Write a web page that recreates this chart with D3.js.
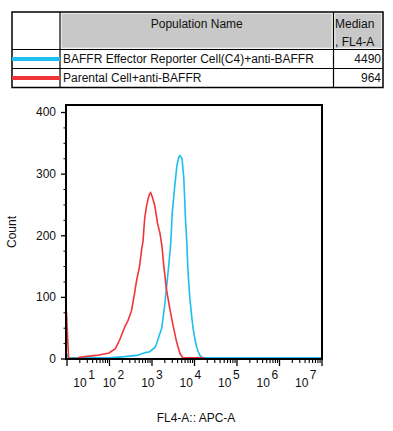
<!DOCTYPE html>
<html>
<head>
<meta charset="utf-8">
<script src="https://cdn.jsdelivr.net/npm/d3@7"></script>
<style>
  body { margin: 0; background: #fff; }
  text { font-family: "Liberation Sans", Arial, sans-serif; fill: #111; }
</style>
</head>
<body>
<svg id="chart" width="393" height="431"></svg>
<script>
// populations shown in the legend table
var populations = ["BAFFR Effector Reporter Cell(C4)+anti-BAFFR", "Parental Cell+anti-BAFFR"];
var medians = [4490, 964];
var popColors = ["#1cbfef", "#f0353a"];

// histogram readings: x as log10(FL4-A), y as count
var blueLog = [1.00, 1.03, 1.06, 2.00, 2.37, 2.65, 2.88, 2.96, 3.08, 3.12, 3.18, 3.24, 3.31, 3.39, 3.45, 3.49, 3.55, 3.60, 3.64, 3.67, 3.72, 3.76, 3.78, 3.80, 3.83, 3.85, 3.87, 3.90, 3.94, 3.98, 4.02, 4.06, 4.10, 4.14, 4.19, 4.25, 7.00];
var blueCount = [8, 3, 1, 1, 3, 5, 10, 11, 18, 24, 37, 49, 86, 140, 184, 238, 282, 314, 326, 329, 324, 293, 260, 225, 190, 155, 130, 100, 72, 48, 32, 19, 11, 5, 2, 1, 1];

var redLog = [1.00, 1.02, 1.05, 1.28, 1.30, 1.70, 2.00, 2.15, 2.25, 2.37, 2.45, 2.53, 2.60, 2.65, 2.72, 2.77, 2.80, 2.84, 2.88, 2.92, 2.95, 2.98, 3.02, 3.08, 3.14, 3.20, 3.25, 3.29, 3.35, 3.43, 3.51, 3.59, 3.67, 3.74, 4.21, 4.25];
var redCount = [75, 43, 0, 0, 2, 5, 9, 16, 30, 51, 62, 78, 105, 127, 150, 178, 190, 228, 246, 259, 266, 269, 262, 247, 220, 203, 180, 150, 113, 81, 53, 27, 8, 1, 1, 0];

var yMajor = [0, 100, 200, 300, 400];
var decades = [1, 2, 3, 4, 5, 6, 7];

var svg = d3.select("#chart");

// ---- legend table ----
var colX = [12, 60, 333.5, 383];
var rowY = [12, 49.5, 68.5, 87.5];

var table = svg.append("g");

// gray header cells
[1, 2].forEach(function(c) {
    table.append("rect")
        .attr("x", colX[c] + 1.5).attr("y", rowY[0] + 1.5)
        .attr("width", colX[c + 1] - colX[c] - 3).attr("height", rowY[1] - rowY[0] - 3)
        .attr("fill", "#c8c8c8")
        .attr("stroke", "#e6e6e6").attr("stroke-width", 1);
});

// grid lines
table.append("rect")
    .attr("x", colX[0]).attr("y", rowY[0])
    .attr("width", colX[3] - colX[0]).attr("height", rowY[3] - rowY[0])
    .attr("fill", "none").attr("stroke", "#000").attr("stroke-width", 1.5);
colX.slice(1, 3).forEach(function(cx) {
    table.append("line").attr("x1", cx).attr("x2", cx).attr("y1", rowY[0]).attr("y2", rowY[3])
        .attr("stroke", "#000").attr("stroke-width", 1.2);
});
rowY.slice(1, 3).forEach(function(ry) {
    table.append("line").attr("x1", colX[0]).attr("x2", colX[3]).attr("y1", ry).attr("y2", ry)
        .attr("stroke", "#000").attr("stroke-width", 1.2);
});

table.append("text")
    .attr("x", (colX[1] + colX[2]) / 2).attr("y", 24).attr("dy", "0.35em")
    .attr("text-anchor", "middle").style("font-size", "12px")
    .text("Population Name");
table.append("text")
    .attr("x", colX[2] + 1.5).attr("y", 24).attr("dy", "0.35em")
    .style("font-size", "12px").text("Median");
table.append("text")
    .attr("x", colX[2] + 1.5).attr("y", 41.5).attr("dy", "0.35em")
    .style("font-size", "12px").text(", FL4-A");

populations.forEach(function(name, i) {
    var cy = (rowY[i + 1] + rowY[i + 2]) / 2;
    table.append("line")
        .attr("x1", colX[0]).attr("x2", colX[1])
        .attr("y1", cy).attr("y2", cy)
        .attr("stroke", popColors[i]).attr("stroke-width", 4);
    table.append("text")
        .attr("x", colX[1] + 3).attr("y", cy).attr("dy", "0.35em")
        .style("font-size", "12px").text(name);
    table.append("text")
        .attr("x", colX[3] - 2).attr("y", cy).attr("dy", "0.35em")
        .attr("text-anchor", "end").style("font-size", "12px")
        .text(medians[i]);
});

// ---- histogram ----
var frame = {left: 66, right: 322, top: 105, bottom: 359};

var x = d3.scaleLog()
    .domain([10, 1e7])
    .range([66.5, 321.5]);

var y = d3.scaleLinear()
    .domain([0, 400])
    .range([358.5, 112]);

// where FlowJo puts the 10^n labels (they drift left of the ticks)
var labelX = d3.scaleLinear()
    .domain([1, 2, 7])
    .range([73.3, 102.7, 295]);

var line = d3.line()
    .x(function(d) { return x(Math.pow(10, d[0])); })
    .y(function(d) { return y(d[1]); });

var blueData = d3.zip(blueLog, blueCount);
var redData = d3.zip(redLog, redCount);

svg.append("path")
    .datum(blueData)
    .attr("d", line)
    .attr("fill", "none")
    .attr("stroke", popColors[0])
    .attr("stroke-width", 1.6);

svg.append("path")
    .datum(redData)
    .attr("d", line)
    .attr("fill", "none")
    .attr("stroke", popColors[1])
    .attr("stroke-width", 1.6);

// y axis
var yMinor = d3.range(0, 401, 25).filter(function(v) { return v % 100 !== 0; });

svg.append("g")
    .attr("transform", "translate(" + frame.left + ",0)")
    .call(d3.axisLeft(y).tickValues(yMinor).tickSize(2.5).tickFormat(""))
    .call(function(g) { g.select(".domain").remove(); });

var yAxis = svg.append("g")
    .attr("transform", "translate(" + frame.left + ",0)")
    .call(d3.axisLeft(y).tickValues(yMajor).tickSize(5).tickPadding(5));
yAxis.select(".domain").remove();
yAxis.selectAll("line").attr("stroke-width", 1.3);
yAxis.selectAll("text").style("font-size", "12px").style("font-family", "'Liberation Sans', Arial, sans-serif");

// x axis
var xMinor = [];
decades.slice(0, 6).forEach(function(k) {
    d3.range(2, 10).forEach(function(m) { xMinor.push(m * Math.pow(10, k)); });
});

svg.append("g")
    .attr("transform", "translate(0," + (frame.bottom + 1) + ")")
    .call(d3.axisBottom(x).tickValues(xMinor).tickSize(3).tickFormat(""))
    .call(function(g) { g.select(".domain").remove(); })
    .selectAll("line").attr("stroke-width", 1.1);

svg.append("g")
    .attr("transform", "translate(0," + (frame.bottom + 1) + ")")
    .call(d3.axisBottom(x).tickValues(decades.map(function(k) { return Math.pow(10, k); })).tickSize(6).tickFormat(""))
    .call(function(g) { g.select(".domain").remove(); })
    .selectAll("line").attr("stroke-width", 1.3);

var xLabels = svg.append("g").selectAll("text")
    .data(decades)
    .enter()
    .append("text")
    .attr("x", function(d) { return labelX(d); })
    .attr("y", 386.5)
    .style("font-size", "12px");
xLabels.append("tspan").text("10");
xLabels.append("tspan")
    .attr("dx", 1.5).attr("dy", -7.5)
    .text(function(d) { return d; });

// frame
svg.append("rect")
    .attr("x", frame.left).attr("y", frame.top)
    .attr("width", frame.right - frame.left)
    .attr("height", frame.bottom - frame.top)
    .attr("fill", "none")
    .attr("stroke", "#000")
    .attr("stroke-width", 2);

// axis titles
svg.append("text")
    .attr("transform", "translate(12," + 232 + ") rotate(-90)")
    .attr("text-anchor", "middle").attr("dy", "0.35em")
    .style("font-size", "12px")
    .text("Count");

svg.append("text")
    .attr("x", 196).attr("y", 418).attr("dy", "0.35em")
    .attr("text-anchor", "middle")
    .style("font-size", "12px")
    .text("FL4-A:: APC-A");
</script>
</body>
</html>
